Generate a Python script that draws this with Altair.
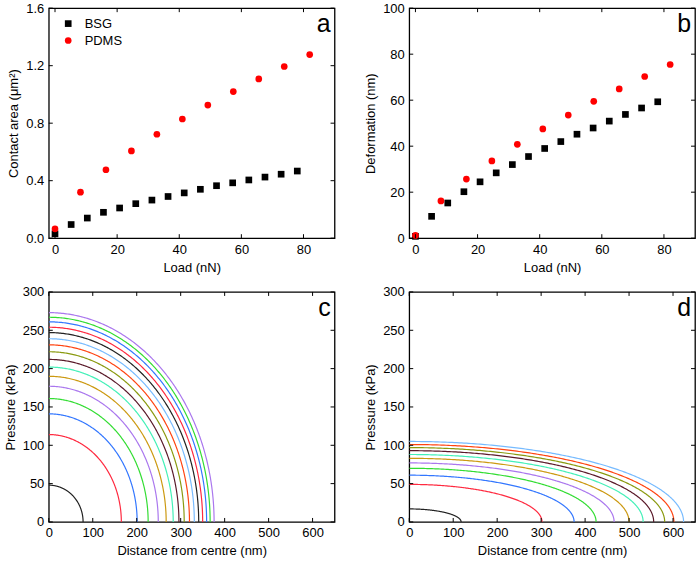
import altair as alt
import pandas as pd

W, H = 287, 231
FONT = "Liberation Sans"

# ---- panel a / b data ----
bsg_load = [0, 5.2, 10.4, 15.6, 20.8, 26.0, 31.2, 36.4, 41.6, 46.8, 52.0, 57.2, 62.4, 67.6, 72.8, 78.0]
bsg_area = [0.03, 0.095, 0.14, 0.18, 0.21, 0.24, 0.265, 0.29, 0.315, 0.34, 0.365, 0.385, 0.405, 0.425, 0.445, 0.467]
bsg_def = [0.8, 9.5, 15.3, 20.2, 24.5, 28.4, 32.0, 35.5, 39.0, 42.0, 45.2, 47.9, 50.9, 53.8, 56.6, 59.3]

pdms_load = [0, 8.2, 16.4, 24.6, 32.8, 41.0, 49.2, 57.4, 65.6, 73.8, 82.0]
pdms_area = [0.065, 0.32, 0.476, 0.607, 0.723, 0.829, 0.926, 1.02, 1.108, 1.194, 1.277]
pdms_def = [1.2, 16.2, 25.7, 33.6, 40.8, 47.5, 53.5, 59.5, 64.9, 70.3, 75.5]

# ---- panel c / d: peak pressure (kPa) and contact radius (nm) per load step ----
c_p0 = [48, 114, 141, 161, 177, 190, 202, 212, 222, 231, 239, 247, 254, 261, 267, 273]
c_a = [78, 165, 201, 226, 249, 267, 283, 296, 308, 320, 331, 341, 350, 359, 367, 376]
d_p0 = [17, 49, 61, 70, 77, 83, 88, 93, 97, 101, 105]
d_a = [118, 302, 375, 425, 466, 500, 532, 556, 581, 602, 624]

curve_colors = ["#222222", "#ff2a40", "#3377ff", "#33dd33", "#aa77ee", "#cc9911",
                "#44f0b8", "#5a1a2a", "#8a9a10", "#ff4411", "#77bbff",
                "#222222", "#ff2a40", "#3377ff", "#33dd33", "#aa77ee"]

series_names = ["BSG", "PDMS"]
series_colors = ["#000000", "#ff0000"]
series_shapes = ["square", "circle"]


def axis(values, title, fmt=None):
    kw = dict(values=values, title=title, labelOverlap=False, labelFlush=False)
    if fmt:
        kw["format"] = fmt
    return alt.Axis(**kw)


def ticks_layers(xticks, yticks, xdom, ydom, xax, yax, L=4):
    tx = pd.DataFrame({"x": xticks})
    ty = pd.DataFrame({"y": yticks})
    xs = alt.Scale(domain=xdom, nice=False, zero=False)
    ys = alt.Scale(domain=ydom, nice=False, zero=False)
    base_x = alt.Chart(tx).mark_rule(color="black", strokeWidth=1)
    base_y = alt.Chart(ty).mark_rule(color="black", strokeWidth=1)
    return [
        base_x.encode(x=alt.X("x:Q", scale=xs, axis=xax), y=alt.value(H), y2=alt.value(H - L)),
        base_x.encode(x=alt.X("x:Q", scale=xs, axis=xax), y=alt.value(0), y2=alt.value(L)),
        base_y.encode(y=alt.Y("y:Q", scale=ys, axis=yax), x=alt.value(0), x2=alt.value(L)),
        base_y.encode(y=alt.Y("y:Q", scale=ys, axis=yax), x=alt.value(W), x2=alt.value(W - L)),
    ]


def letter(t):
    return alt.Chart(pd.DataFrame({"t": [t]})).mark_text(
        align="right", baseline="alphabetic", fontSize=25, font=FONT, color="black"
    ).encode(text="t:N", x=alt.value(W - 4), y=alt.value(24))


def scatter_panel(ycol_bsg, ycol_pdms, ydom, yticks, ytitle, yfmt, let, legend):
    rows = []
    for x, y in zip(bsg_load, ycol_bsg):
        rows.append({"series": "BSG", "x": x, "y": y})
    for x, y in zip(pdms_load, ycol_pdms):
        rows.append({"series": "PDMS", "x": x, "y": y})
    df = pd.DataFrame(rows)
    xdom = [-2, 90]
    xticks = [0, 20, 40, 60, 80]
    xax = axis(xticks, "Load (nN)")
    yax = axis(yticks, ytitle, yfmt)
    if legend:
        leg = alt.Legend(title=None, orient="none", legendX=13, legendY=9, padding=0,
                         labelFontSize=13, labelFont=FONT, symbolSize=45,
                         labelOffset=10, rowPadding=3, symbolStrokeWidth=0)
    else:
        leg = None
    pts = alt.Chart(df).mark_point(filled=True, size=45, opacity=1).encode(
        x=alt.X("x:Q", scale=alt.Scale(domain=xdom, nice=False, zero=False), axis=xax),
        y=alt.Y("y:Q", scale=alt.Scale(domain=ydom, nice=False, zero=False), axis=yax),
        color=alt.Color("series:N", scale=alt.Scale(domain=series_names, range=series_colors), legend=leg),
        shape=alt.Shape("series:N", scale=alt.Scale(domain=series_names, range=series_shapes), legend=leg),
    )
    return alt.layer(pts, *ticks_layers(xticks, yticks, xdom, ydom, xax, yax), letter(let)).properties(width=W, height=H)


def curve_panel(p0s, radii, let):
    n = len(p0s)
    df = pd.DataFrame({"curve": list(range(n)), "p0": p0s, "a": radii, "col": curve_colors[:n]})
    xdom = [0, 650]
    ydom = [0, 300]
    xticks = [0, 100, 200, 300, 400, 500, 600]
    yticks = [0, 50, 100, 150, 200, 250, 300]
    xax = axis(xticks, "Distance from centre (nm)")
    yax = axis(yticks, "Pressure (kPa)")
    lines = alt.Chart(df).transform_calculate(
        th="sequence(0, 90.5, 0.5)"
    ).transform_flatten(["th"]).transform_calculate(
        x="datum.a * sin(datum.th * PI / 180)",
        y="datum.p0 * cos(datum.th * PI / 180)",
    ).mark_line(strokeWidth=1.2, clip=True).encode(
        x=alt.X("x:Q", scale=alt.Scale(domain=xdom, nice=False, zero=False), axis=xax),
        y=alt.Y("y:Q", scale=alt.Scale(domain=ydom, nice=False, zero=False), axis=yax),
        detail="curve:N",
        order="th:Q",
        color=alt.Color("col:N", scale=None),
    )
    return alt.layer(lines, *ticks_layers(xticks, yticks, xdom, ydom, xax, yax), letter(let)).properties(width=W, height=H)


pa = scatter_panel(bsg_area, pdms_area, [0, 1.6], [0, 0.4, 0.8, 1.2, 1.6], "Contact area (μm²)", ".1f", "a", True)
pb = scatter_panel(bsg_def, pdms_def, [0, 100], [0, 20, 40, 60, 80, 100], "Deformation (nm)", "d", "b", False)
pc = curve_panel(c_p0, c_a, "c")
pdd = curve_panel(d_p0, d_a, "d")

chart = alt.vconcat(
    alt.hconcat(pa, pb, spacing=27),
    alt.hconcat(pc, pdd, spacing=27),
    spacing=10,
).configure_view(
    stroke="black", strokeWidth=1.3
).configure_axis(
    ticks=False, domain=False, grid=False, labelFlush=False, labelOverlap=False,
    labelFont=FONT, labelFontSize=13, labelColor="black", labelPadding=5,
    titleFont=FONT, titleFontSize=13, titleFontWeight="normal", titleColor="black",
    titlePadding=5,
).configure_legend(
    labelColor="black"
).properties(
    padding={"left": 3, "top": 0, "right": 0, "bottom": 0},
    background="white",
)

chart.save("out.html", embed_options={"renderer": "svg", "actions": False})
